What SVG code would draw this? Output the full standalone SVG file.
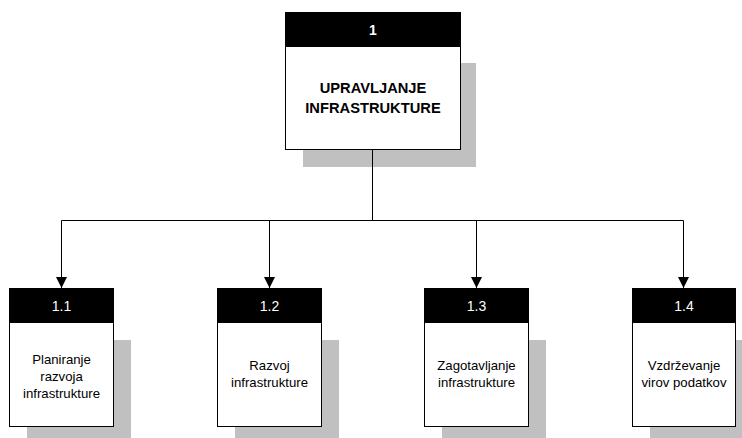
<svg xmlns="http://www.w3.org/2000/svg" width="742" height="438" viewBox="0 0 742 438">
  <style>
    .shadow { fill: #c0c0c0; }
    .body { fill: #ffffff; stroke: #000000; stroke-width: 1; }
    .head { fill: #000000; }
    .num { font-family: "Liberation Sans", Arial, sans-serif; font-size: 14px; fill: #ffffff; text-anchor: middle; }
    .title { font-family: "Liberation Sans", Arial, sans-serif; font-size: 14.7px; font-weight: bold; fill: #000000; text-anchor: middle; }
    .label { font-family: "Liberation Sans", Arial, sans-serif; font-size: 13.2px; fill: #000000; text-anchor: middle; }
    .wire { fill: none; stroke: #000000; stroke-width: 1; }
  </style>
  <defs>
    <marker id="arrow" markerUnits="userSpaceOnUse" markerWidth="12" markerHeight="11" refX="11" refY="5.5" orient="auto">
      <path d="M0,0 L11,5.5 L0,11 Z" fill="#000000"/>
    </marker>
  </defs>

  <rect width="742" height="438" fill="#ffffff"/>

  <!-- root node -->
  <g id="node-1">
    <rect class="shadow" x="303" y="63" width="173" height="104"/>
    <rect class="body" x="285.5" y="12.5" width="175" height="137"/>
    <rect class="head" x="285" y="12" width="176" height="35"/>
    <text class="num" x="373" y="35" font-weight="bold">1</text>
    <text class="title" x="373" y="93">UPRAVLJANJE</text>
    <text class="title" x="373" y="113">INFRASTRUKTURE</text>
  </g>

  <!-- connectors -->
  <g id="connectors">
    <path class="wire" d="M372.5,150 V220.5"/>
    <path class="wire" d="M61.5,220.5 H683.5"/>
    <path class="wire" d="M61.5,220.5 V288" marker-end="url(#arrow)"/>
    <path class="wire" d="M269.5,220.5 V288" marker-end="url(#arrow)"/>
    <path class="wire" d="M476.5,220.5 V288" marker-end="url(#arrow)"/>
    <path class="wire" d="M683.5,220.5 V288" marker-end="url(#arrow)"/>
  </g>

  <!-- child nodes -->
  <g id="node-1-1">
    <rect class="shadow" x="27" y="340" width="104" height="98"/>
    <rect class="body" x="9.5" y="288.5" width="104" height="138"/>
    <rect class="head" x="9" y="288" width="105" height="35"/>
    <text class="num" x="61.5" y="311">1.1</text>
    <text class="label" x="61.5" y="363.5">Planiranje</text>
    <text class="label" x="61.5" y="380.5">razvoja</text>
    <text class="label" x="61.5" y="397.5">infrastrukture</text>
  </g>

  <g id="node-1-2">
    <rect class="shadow" x="235" y="340" width="104" height="98"/>
    <rect class="body" x="217.5" y="288.5" width="104" height="138"/>
    <rect class="head" x="217" y="288" width="105" height="35"/>
    <text class="num" x="269.5" y="311">1.2</text>
    <text class="label" x="269.5" y="369.5">Razvoj</text>
    <text class="label" x="269.5" y="386.5">infrastrukture</text>
  </g>

  <g id="node-1-3">
    <rect class="shadow" x="442" y="340" width="104" height="98"/>
    <rect class="body" x="424.5" y="288.5" width="104" height="138"/>
    <rect class="head" x="424" y="288" width="105" height="35"/>
    <text class="num" x="476.5" y="311">1.3</text>
    <text class="label" x="476.5" y="369.5">Zagotavljanje</text>
    <text class="label" x="476.5" y="386.5">infrastrukture</text>
  </g>

  <g id="node-1-4">
    <rect class="shadow" x="650" y="340" width="104" height="98"/>
    <rect class="body" x="632.5" y="288.5" width="103" height="138"/>
    <rect class="head" x="632" y="288" width="104" height="35"/>
    <text class="num" x="684" y="311">1.4</text>
    <text class="label" x="684" y="369.5">Vzdrževanje</text>
    <text class="label" x="684" y="386.5">virov podatkov</text>
  </g>
</svg>
